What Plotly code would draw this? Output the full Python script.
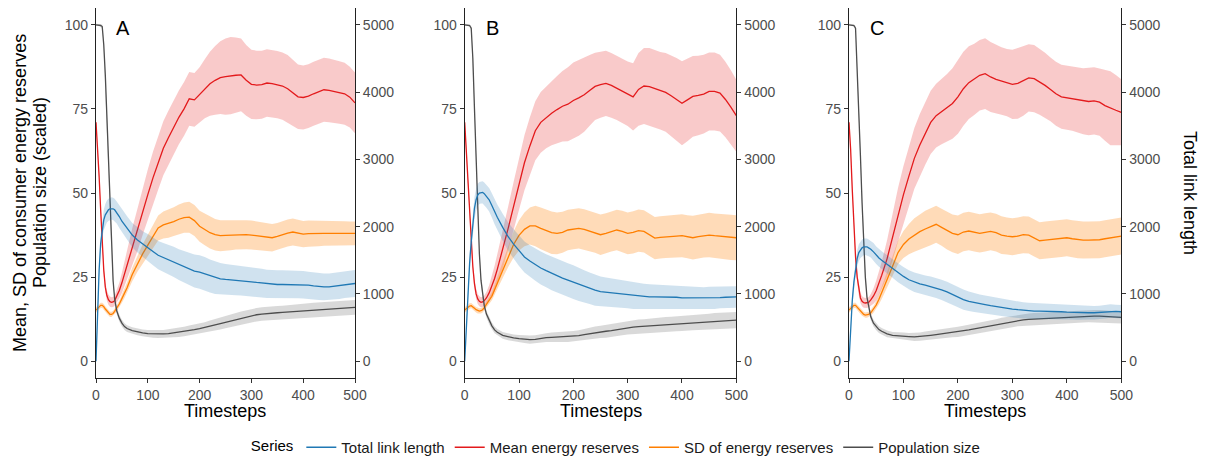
import numpy as np
import plotly.graph_objects as go

T = [0, 3, 6, 9, 12, 15, 18, 21, 24, 27, 30, 33, 36,
     40, 45, 50, 55, 60,
     70, 80, 90, 100, 110, 120, 130, 140, 150, 160,
     170, 180, 190, 200, 210, 220, 230, 240, 250, 260,
     270, 280, 290, 300, 310, 320, 330, 340, 350, 360,
     370, 380, 390, 400, 410, 420, 430, 440, 450, 460,
     470, 480, 490, 500]

# ---- panel A ----
link_A = [0, 750, 1350, 1750, 1975, 2100, 2175, 2225, 2250, 2265, 2270, 2265, 2250,
          2210, 2150, 2080, 2030, 1980,
          1875, 1800, 1740, 1690, 1630, 1575, 1540, 1510, 1475, 1435,
          1400, 1370, 1340, 1325, 1300, 1265, 1240, 1225, 1215, 1210,
          1205, 1200, 1190, 1180, 1170, 1160, 1150, 1140, 1140, 1140,
          1140, 1140, 1140, 1135, 1130, 1120, 1110, 1105, 1105, 1115,
          1125, 1140, 1150, 1155]
link_A_err = [20, 60, 90, 120, 140, 150, 160, 165, 165, 165, 165, 165, 165,
              165, 170, 170, 175, 175,
              180, 185, 190, 200, 205, 210, 215, 220, 225, 230,
              235, 240, 245, 250, 250, 245, 240, 235, 230, 225,
              225, 225, 220, 220, 215, 215, 210, 210, 210, 210,
              210, 205, 205, 205, 200, 200, 200, 200, 200, 200,
              200, 200, 200, 200]
mean_A = [71, 64, 55, 45, 35, 27, 22, 19.5, 18.3, 17.7, 17.5, 17.6, 18,
          19.2, 21, 23.3, 26, 28.5,
          34, 39, 44.5, 49.5, 54.5, 59, 63.3, 66.5, 69.5, 72.5,
          75, 78, 77.7, 79.2, 81, 82.5, 83.5, 84.3, 84.6, 84.9,
          85, 85.1, 83.5, 82.3, 82.1, 82.2, 82.7, 82.5, 82.2, 81.8,
          81, 79.8, 78.6, 78.4, 78.8, 79.5, 80.2, 80.7, 80.5, 80.2,
          79.9, 79.5, 78.5, 76.8]
mean_A_err = [1, 1, 1.2, 1.4, 1.5, 1.5, 1.5, 1.5, 1.5, 1.5, 1.5, 1.5, 1.5,
              1.8, 2.3, 3, 3.8, 4.5,
              5.5, 6.3, 7, 7.5, 7.8, 8, 8, 8, 8, 8,
              8, 8, 8, 8.2, 8.8, 9.5, 10.2, 10.8, 11.3, 11.5,
              11.2, 10.8, 10.5, 10.3, 10.2, 10.1, 10, 10, 10, 10,
              10, 9.8, 9.6, 9.5, 9.5, 9.5, 9.5, 9.5, 9.5, 9.5,
              9.3, 9.2, 9, 9]
sd_A = [15.2, 15.7, 16.2, 16.6, 16.6, 16.2, 15.5, 14.9, 14.3, 13.9, 13.9, 14.2, 14.8,
        15.7, 17, 18.6, 20.2, 21.8,
        25.8, 29, 31.9, 34.5, 37, 39.6, 40.5, 40.9, 41.5, 42.2,
        42.7, 42.8, 41.8, 40.1, 39.2, 38.2, 37.6, 37.3, 37.4, 37.5,
        37.6, 37.7, 37.6, 37.5, 37.3, 37.1, 36.9, 36.7, 37.1, 37.7,
        38.1, 38.4, 38.1, 37.8, 37.9, 38, 38, 38, 38, 38,
        38.1, 38, 38, 38]
sd_A_err = [0.8, 0.8, 0.8, 0.8, 0.8, 0.8, 0.8, 0.8, 0.8, 0.8, 0.8, 0.8, 0.8,
            0.9, 1, 1.2, 1.4, 1.6,
            2, 2.4, 2.8, 3.1, 3.4, 3.7, 4, 4.2, 4.3, 4.4,
            4.5, 4.6, 4.6, 4.6, 4.7, 4.7, 4.7, 4.6, 4.5, 4.5,
            4.4, 4.4, 4.3, 4.3, 4.2, 4.2, 4.1, 4.1, 4, 4,
            4, 4, 4, 3.9, 3.9, 3.8, 3.8, 3.7, 3.7, 3.6,
            3.6, 3.6, 3.5, 3.5]
pop_A = [100, 100, 100, 99.8, 99.5, 94, 85, 73, 59, 45, 33, 24, 18.5,
         15, 12.8, 11.3, 10.3, 9.7,
         9.1, 8.7, 8.4, 8.2, 8.1, 8.1, 8.1, 8.2, 8.4, 8.6,
         8.8, 9.1, 9.4, 9.7, 10, 10.4, 10.8, 11.2, 11.6, 12,
         12.4, 12.8, 13.2, 13.5, 13.8, 14, 14.2, 14.3, 14.4, 14.5,
         14.6, 14.8, 14.9, 15, 15.1, 15.3, 15.4, 15.5, 15.6, 15.7,
         15.8, 15.9, 15.9, 16]
pop_A_err = [0.3, 0.3, 0.3, 0.4, 0.6, 1, 1.2, 1.3, 1.3, 1.3, 1.2, 1.1, 1,
             1, 1, 1, 1, 1,
             1, 1, 1, 1.1, 1.1, 1.2, 1.2, 1.3, 1.3, 1.4,
             1.4, 1.5, 1.5, 1.6, 1.6, 1.7, 1.7, 1.8, 1.8, 1.9,
             1.9, 2, 2, 2, 2, 2, 2, 2, 2, 2,
             2, 2, 2, 2.1, 2.1, 2.1, 2.1, 2.2, 2.2, 2.2,
             2.2, 2.2, 2.2, 2.2]

# ---- panel B ----
link_B = [0, 550, 1080, 1450, 1775, 2050, 2275, 2400, 2470, 2500, 2510, 2510, 2490,
          2450, 2400, 2315, 2220, 2140,
          1990, 1850, 1740, 1640, 1550, 1490, 1435, 1385, 1345, 1305,
          1265, 1235, 1205, 1175, 1140, 1110, 1085, 1055, 1035, 1025,
          1015, 1005, 995, 985, 975, 965, 960, 955, 955, 955,
          955, 955, 950, 940, 940, 935, 935, 935, 940, 940,
          945, 950, 955, 955]
link_B_err = [20, 60, 100, 130, 150, 160, 165, 165, 165, 165, 165, 165, 165,
              170, 175, 180, 185, 190,
              200, 210, 220, 225, 230, 235, 240, 245, 245, 250,
              250, 250, 250, 250, 245, 240, 235, 230, 225, 220,
              215, 210, 205, 200, 200, 195, 190, 190, 185, 185,
              180, 180, 175, 175, 175, 170, 170, 165, 165, 165,
              160, 160, 160, 160]
mean_B = [71, 62, 53, 44, 35.5, 28, 23, 20, 18.5, 17.8, 17.5, 17.6, 18,
          18.8, 20.3, 22.3, 24.6, 27.3,
          33, 39.5, 46, 52.8, 59, 64, 68.5, 71, 72.5, 73.7,
          74.8, 75.8, 76.4, 77.5, 78.3, 79.2, 80.5, 81.7, 82.2, 82.6,
          82, 81.2, 80.4, 79.5, 78.6, 80.8, 81.8, 81.6, 81, 80.4,
          79.9, 78.9, 77.8, 76.7, 77.7, 78.7, 79, 79.4, 80.2, 80.2,
          79.7, 77.8, 75.5, 73]
mean_B_err = [1, 1, 1.2, 1.4, 1.5, 1.5, 1.5, 1.5, 1.5, 1.5, 1.5, 1.5, 1.5,
              1.8, 2.3, 3, 3.8, 4.5,
              5.5, 6.5, 7.3, 7.8, 8.2, 8.5, 8.8, 9, 9.2, 9.5,
              10, 10.5, 11, 11.3, 11.3, 11, 10.5, 10, 9.8, 9.7,
              9.6, 9.5, 9.5, 9.6, 10, 10.8, 11.3, 11.5, 11.5, 11.5,
              11.7, 12, 12.3, 12.5, 12.3, 12, 11.8, 11.7, 11.6, 11.6,
              11.4, 11.2, 11, 10.7]
sd_B = [15.2, 15.6, 16, 16.4, 16.5, 16.2, 15.7, 15.3, 15, 14.9, 15, 15.3, 15.9,
        16.8, 18, 19.3, 21.2, 23.2,
        27.2, 31.2, 34.7, 37.4, 39.2, 40.2, 40.2, 39.5, 38.8, 38.2,
        38, 38.3, 39, 39.3, 39.5, 39.2, 38.7, 38.2, 37.6, 38,
        38.6, 39, 38.6, 38, 38.3, 38.8, 38.6, 37.6, 36.6, 36.8,
        37, 37.1, 37.2, 37.3, 37, 36.7, 37, 37.3, 37.5, 37.3,
        37.1, 37, 36.8, 36.7]
sd_B_err = [0.8, 0.8, 0.8, 0.8, 0.8, 0.8, 0.8, 0.8, 0.8, 0.8, 0.8, 0.8, 0.8,
            0.9, 1, 1.2, 1.5, 1.8,
            2.5, 3.2, 3.9, 4.5, 5, 5.5, 6, 6.2, 6.3, 6.3,
            6.2, 6.1, 6, 6, 6, 6, 6, 6, 6, 6,
            6, 6, 6.1, 6.2, 6.3, 6.3, 6.3, 6.3, 6.3, 6.3,
            6.3, 6.3, 6.4, 6.4, 6.4, 6.5, 6.5, 6.5, 6.6, 6.6,
            6.6, 6.7, 6.7, 6.7]
pop_B = [100, 100, 100, 99.8, 99, 90, 75, 59, 44, 32, 24, 19.5, 16.5,
         14, 12, 10.5, 9.3, 8.6,
         7.7, 7.2, 6.9, 6.7, 6.5, 6.4, 6.5, 6.8, 7, 7.1,
         7.2, 7.2, 7.2, 7.4, 7.6, 7.9, 8.2, 8.5, 8.7, 8.9,
         9.1, 9.4, 9.7, 9.9, 10.1, 10.3, 10.4, 10.6, 10.7, 10.8,
         10.9, 11, 11.1, 11.2, 11.3, 11.5, 11.6, 11.7, 11.8, 11.9,
         12, 12.1, 12.2, 12.2]
pop_B_err = [0.3, 0.3, 0.3, 0.4, 0.6, 1, 1.2, 1.3, 1.3, 1.3, 1.2, 1.1, 1,
             1, 1, 1, 1, 1,
             1, 1, 1, 1.1, 1.1, 1.2, 1.2, 1.3, 1.3, 1.4,
             1.4, 1.5, 1.5, 1.6, 1.6, 1.7, 1.7, 1.8, 1.8, 1.9,
             1.9, 2, 2, 2, 2, 2.1, 2.1, 2.1, 2.1, 2.2,
             2.2, 2.2, 2.2, 2.2, 2.3, 2.3, 2.3, 2.3, 2.3, 2.4,
             2.4, 2.4, 2.4, 2.4]

# ---- panel C ----
link_C = [0, 500, 900, 1175, 1375, 1525, 1615, 1660, 1685, 1700, 1705, 1700, 1685,
          1665, 1625, 1575, 1535, 1500,
          1440, 1375, 1315, 1260, 1210, 1175, 1150, 1130, 1110, 1090,
          1060, 1030, 990, 950, 915, 890, 870, 850, 840, 825,
          810, 800, 785, 775, 765, 755, 750, 745, 745, 745,
          745, 740, 735, 730, 725, 720, 720, 720, 720, 725,
          735, 745, 740, 735]
link_C_err = [15, 50, 80, 100, 115, 120, 125, 125, 125, 125, 125, 125, 125,
              125, 130, 130, 130, 135,
              135, 135, 140, 140, 140, 145, 145, 145, 150, 150,
              150, 150, 150, 150, 150, 145, 140, 140, 135, 135,
              130, 130, 125, 125, 125, 120, 120, 120, 115, 115,
              115, 110, 110, 110, 105, 105, 105, 100, 100, 100,
              100, 100, 100, 100]
mean_C = [71, 63, 51, 40, 31, 25, 21, 18.8, 17.8, 17.4, 17.3, 17.3, 17.5,
          18.2, 19.4, 21, 23.2, 25.5,
          30.5, 37, 43.5, 49.5, 55, 60.3, 64.3, 67.7, 71, 73,
          74.2, 75.4, 76.6, 78.6, 81, 82.8, 83.8, 85, 85.5, 84.5,
          83.8, 83.3, 82.8, 82.3, 82.6, 83.3, 84.2, 84, 83.1, 82,
          80.8, 79.5, 78.6, 78.3, 78, 77.7, 77.3, 77.2, 77.4, 77,
          76, 75.2, 74.6, 74]
mean_C_err = [1, 1, 1.2, 1.4, 1.5, 1.5, 1.5, 1.5, 1.5, 1.5, 1.5, 1.5, 1.5,
              1.8, 2.3, 3, 3.5, 4,
              5.5, 7, 8, 8.5, 9, 9, 9.2, 9.3, 9.4, 9.5,
              9.7, 10, 10.5, 11, 11, 10.8, 10.6, 10.5, 10.5, 10.4,
              10.2, 10, 10, 10.3, 10.5, 10.3, 10, 10, 9.8, 9.7,
              9.5, 9.5, 9.5, 9.5, 9.5, 9.6, 9.8, 10, 10, 10,
              10.5, 11, 10.5, 9.8]
sd_C = [15.2, 15.7, 16.2, 16.6, 16.6, 16.1, 15.4, 14.8, 14.3, 13.9, 13.7, 13.7, 13.9,
        14.4, 15.4, 16.7, 18.4, 20.3,
        24.2, 28.2, 32.3, 34.7, 36.3, 37.5, 38.5, 39.3, 40, 40.7,
        39.8, 38.8, 38, 37.6, 38.4, 38.7, 38.3, 38, 38.3, 38.6,
        38.2, 37.5, 37.2, 37, 37.2, 37.6, 37.5, 36.6, 35.8, 36,
        36.2, 36.3, 36.5, 36.7, 36.4, 36.1, 36, 36, 36, 36.1,
        36.4, 36.7, 37, 37.2]
sd_C_err = [0.8, 0.8, 0.8, 0.8, 0.8, 0.8, 0.8, 0.8, 0.8, 0.8, 0.8, 0.8, 0.8,
            0.9, 1, 1.2, 1.5, 1.8,
            2.4, 3, 3.5, 4, 4.5, 5, 5.2, 5.4, 5.5, 5.5,
            5.5, 5.6, 5.6, 5.7, 5.7, 5.7, 5.7, 5.7, 5.7, 5.6,
            5.6, 5.6, 5.5, 5.5, 5.5, 5.5, 5.5, 5.5, 5.5, 5.5,
            5.5, 5.5, 5.5, 5.5, 5.5, 5.5, 5.5, 5.5, 5.5, 5.5,
            5.5, 5.5, 5.5, 5.5]
pop_C = [100, 100, 100, 99.8, 99, 88, 75, 61, 47, 34, 25, 19, 16,
         13.2, 11.3, 10.2, 9.4, 8.9,
         8.1, 7.7, 7.5, 7.4, 7.3, 7.2, 7.3, 7.5, 7.7, 7.9,
         8.1, 8.3, 8.5, 8.7, 9, 9.3, 9.6, 9.9, 10.2, 10.5,
         10.8, 11.2, 11.5, 11.8, 12.1, 12.3, 12.4, 12.5, 12.6, 12.6,
         12.7, 12.8, 12.9, 13, 13.1, 13.2, 13.3, 13.4, 13.4, 13.4,
         13.3, 13.2, 13.1, 13]
pop_C_err = [0.3, 0.3, 0.3, 0.4, 0.6, 1, 1.2, 1.3, 1.3, 1.3, 1.2, 1.1, 1,
             1, 1, 1, 1, 1,
             1, 1, 1, 1.1, 1.1, 1.2, 1.2, 1.3, 1.3, 1.3,
             1.4, 1.4, 1.4, 1.5, 1.5, 1.5, 1.6, 1.6, 1.6, 1.6,
             1.7, 1.7, 1.7, 1.7, 1.7, 1.7, 1.8, 1.8, 1.8, 1.8,
             1.8, 1.8, 1.8, 1.8, 1.8, 1.8, 1.8, 1.8, 1.8, 1.8,
             1.8, 1.8, 1.8, 1.8]

panel_labels = ['A', 'B', 'C']
series_names = ['Total link length', 'Mean energy reserves', 'SD of energy reserves', 'Population size']
left_ticks = [0, 25, 50, 75, 100]
right_ticks = [0, 1000, 2000, 3000, 4000, 5000]
x_ticks = [0, 100, 200, 300, 400, 500]

panels = [
    (link_A, link_A_err, mean_A, mean_A_err, sd_A, sd_A_err, pop_A, pop_A_err),
    (link_B, link_B_err, mean_B, mean_B_err, sd_B, sd_B_err, pop_B, pop_B_err),
    (link_C, link_C_err, mean_C, mean_C_err, sd_C, sd_C_err, pop_C, pop_C_err),
]

line_cols = ['#1F78B4', '#E31A1C', '#FF7F00', '#4D4D4D']
fill_cols = ['rgba(31,120,180,0.21)', 'rgba(227,26,28,0.23)',
             'rgba(255,127,0,0.28)', 'rgba(77,77,77,0.21)']

FONT = 'Liberation Sans, Arial, sans-serif'
W, H = 1208, 464

# pixel positions of the three panels (left axis, right axis)
panel_px = [(96, 355), (464.7, 736.3), (849, 1121.3)]
y_dom = [(H - 378) / H, (H - 8) / H]

fig = go.Figure()


def band(x, y, err, color, xa, ya):
    y = np.array(y, dtype=float)
    e = np.array(err, dtype=float)
    return go.Scatter(x=list(x) + list(x)[::-1], y=list(y + e) + list((y - e)[::-1]),
                      fill='toself', fillcolor=color, line=dict(width=0),
                      mode='lines', hoverinfo='skip', showlegend=False,
                      xaxis=xa, yaxis=ya)


for i, p in enumerate(panels):
    xa = 'x' if i == 0 else 'x%d' % (i + 1)
    yl = 'y' if i == 0 else 'y%d' % (2 * i + 1)
    yr = 'y%d' % (2 * i + 2)
    series = [(p[0], p[1], yr), (p[2], p[3], yl), (p[4], p[5], yl), (p[6], p[7], yl)]
    # ribbons first
    for k in [1, 2, 3, 0]:
        vals, err, ya = series[k]
        fig.add_trace(band(T, vals, err, fill_cols[k], xa, ya))
    for k in [0, 1, 2, 3]:
        vals, err, ya = series[k]
        fig.add_trace(go.Scatter(x=T, y=vals, mode='lines', name=series_names[k],
                                 line=dict(color=line_cols[k], width=1.3),
                                 legendgroup=series_names[k], showlegend=(i == 0),
                                 xaxis=xa, yaxis=ya))

axis_common = dict(showline=True, linecolor='#222222', linewidth=1.1, showgrid=False,
                   zeroline=False, ticks='outside', ticklen=4, tickwidth=1.1,
                   tickcolor='#333333', automargin=False,
                   tickfont=dict(size=14, color='#4D4D4D', family=FONT))

layout = dict(template='none', width=W, height=H, margin=dict(l=0, r=0, t=0, b=0),
              paper_bgcolor='white', plot_bgcolor='rgba(0,0,0,0)',
              font=dict(family=FONT, color='#1a1a1a'))

annotations = []
for i, (x0, x1) in enumerate(panel_px):
    xk = 'xaxis' if i == 0 else 'xaxis%d' % (i + 1)
    ylk = 'yaxis' if i == 0 else 'yaxis%d' % (2 * i + 1)
    yrk = 'yaxis%d' % (2 * i + 2)
    xa = 'x' if i == 0 else 'x%d' % (i + 1)
    yl = 'y' if i == 0 else 'y%d' % (2 * i + 1)
    yr = 'y%d' % (2 * i + 2)
    layout[xk] = dict(axis_common, domain=[x0 / W, x1 / W], range=[0, 500],
                      tickvals=x_ticks, anchor=yl)
    layout[ylk] = dict(axis_common, domain=y_dom, range=[-5, 105], tickvals=left_ticks,
                       anchor=xa, side='left')
    layout[yrk] = dict(axis_common, domain=y_dom, range=[-250, 5250], tickvals=right_ticks,
                       anchor=xa, side='right', overlaying=yl)
    annotations.append(dict(text='Timesteps', xref=xa + ' domain', yref='paper',
                            x=0.5, y=(H - 411) / H, showarrow=False,
                            xanchor='center', yanchor='middle',
                            font=dict(size=18, color='#000000')))
    annotations.append(dict(text=panel_labels[i], xref=xa, yref=yl, x=35, y=99,
                            showarrow=False, xanchor='left', yanchor='middle',
                            font=dict(size=20, color='#000000')))

annotations.append(dict(text='Mean, SD of consumer energy reserves', xref='paper', yref='paper',
                        x=20 / W, y=(H - 193) / H, textangle=-90, showarrow=False,
                        xanchor='center', yanchor='middle', font=dict(size=18, color='#000000')))
annotations.append(dict(text='Population size (scaled)', xref='paper', yref='paper',
                        x=40 / W, y=(H - 193) / H, textangle=-90, showarrow=False,
                        xanchor='center', yanchor='middle', font=dict(size=18, color='#000000')))
annotations.append(dict(text='Total link length', xref='paper', yref='paper',
                        x=1190 / W, y=(H - 193) / H, textangle=90, showarrow=False,
                        xanchor='center', yanchor='middle', font=dict(size=18, color='#000000')))

layout['annotations'] = annotations
layout['legend'] = dict(orientation='h', x=0.511, xanchor='center', y=0, yanchor='bottom',
                        title=dict(text='Series', font=dict(size=15, color='#000000')),
                        font=dict(size=15, color='#1a1a1a'), bgcolor='rgba(0,0,0,0)',
                        borderwidth=0, itemwidth=30, traceorder='normal')

fig.update_layout(**layout)
# the page body has a default 8px margin; drop it so the figure sits at the window corner
fig.write_html('out.html', config={'displayModeBar': False},
               post_script="document.body.style.margin='0';")
